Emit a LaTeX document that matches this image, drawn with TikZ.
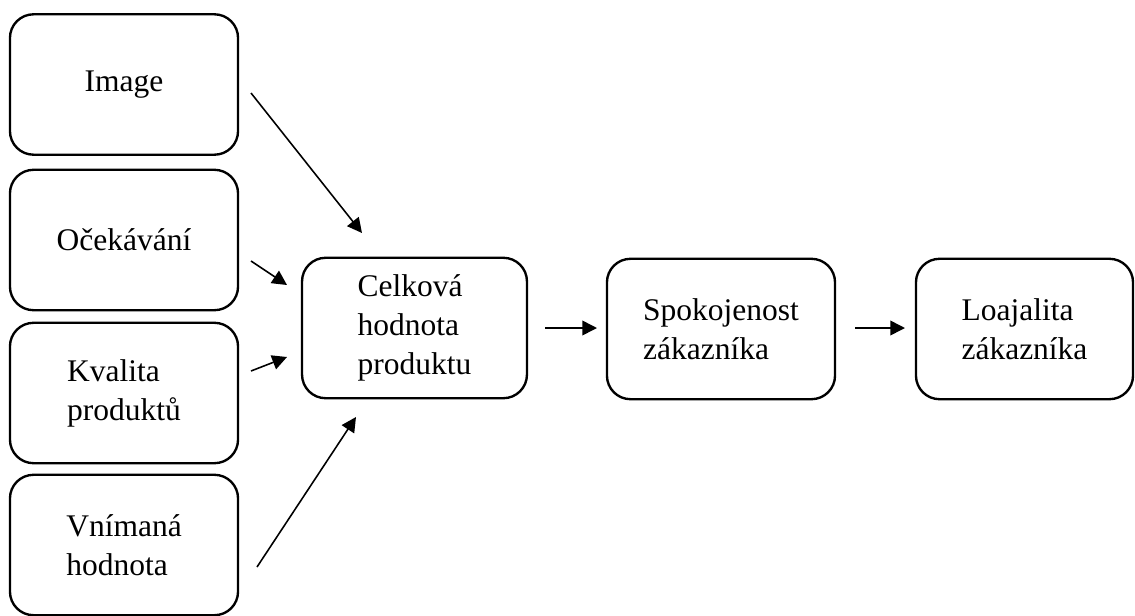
\documentclass[tikz,border=0pt]{standalone}
\usepackage{fontspec}
\setmainfont{Liberation Serif}
\usetikzlibrary{arrows.meta}
\begin{document}
\begin{tikzpicture}[x=0.381pt,y=-0.381pt,
        box/.style={draw,line width=0.9pt,rounded corners=9pt,align=left,inner sep=0pt,
            minimum width=86.9pt,minimum height=53.5pt,
            font=\fontsize{12}{14.8}\selectfont},
        arr/.style={-{Triangle[length=5.6pt,width=5.6pt]},line width=0.6pt}]
            \useasboundingbox (0,0) rectangle (1135,615);
            \node[box] (IMG) at (124,84.5) {Image};
            \node[box] (OCE) at (124,240) {Očekávání};
            \node[box] (KVA) at (124,393) {Kvalita\\produktů};
            \node[box] (VNI) at (124,545) {Vnímaná\\hodnota};
            \node[box,minimum width=85.7pt] (CEL) at (414.5,328) {Celková\\hodnota\\produktu};
            \node[box] (SPO) at (721,329) {Spokojenost\\zákazníka};
            \node[box,minimum width=82.7pt] (LOA) at (1024.5,329) {Loajalita\\zákazníka};
            
            \coordinate (S1) at (251,93);
            \coordinate (T1) at (362,233);
            \coordinate (S2) at (251,261);
            \coordinate (T2) at (287,285);
            \coordinate (S3) at (251,371);
            \coordinate (T3) at (287,357);
            \coordinate (S4) at (257,567);
            \coordinate (T4) at (356,417);
            \coordinate (S5) at (545,328);
            \coordinate (T5) at (597,328);
            \coordinate (S6) at (855,328);
            \coordinate (T6) at (905,328);
            
            \path [arr] (S1) edge (T1);
            \path [arr] (S2) edge (T2);
            \path [arr] (S3) edge (T3);
            \path [arr] (S4) edge (T4);
            \path [arr] (S5) edge (T5);
            \path [arr] (S6) edge (T6);
        \end{tikzpicture}
\end{document}
